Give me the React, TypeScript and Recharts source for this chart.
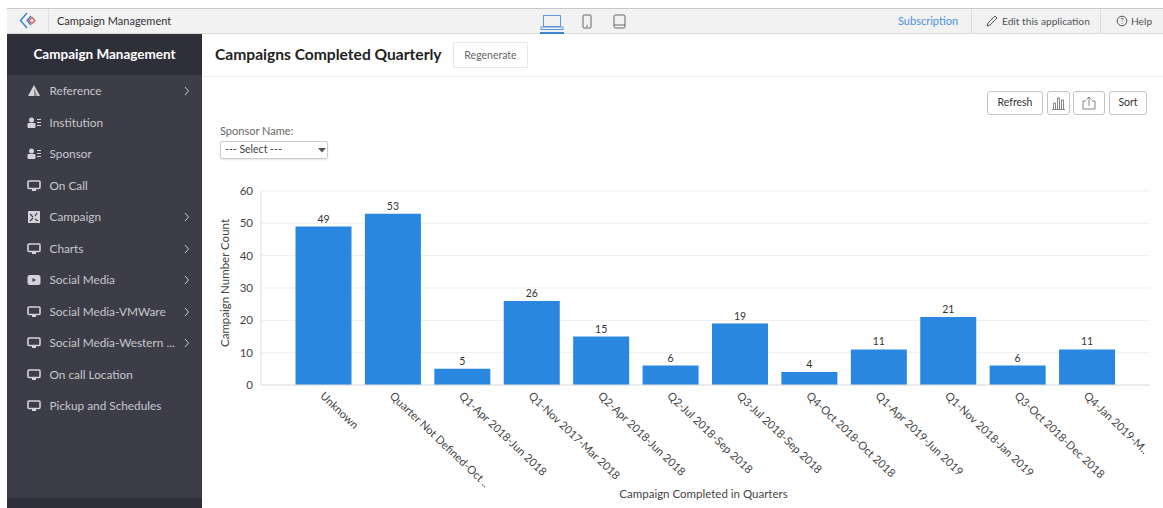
import { Bar, BarChart, CartesianGrid, LabelList, XAxis, YAxis } from "recharts";

const quarters = [
  "Unknown",
  "Quarter Not Defined-Oct ..",
  "Q1-Apr 2018-Jun 2018",
  "Q1-Nov 2017-Mar 2018",
  "Q2-Apr 2018-Jun 2018",
  "Q2-Jul 2018-Sep 2018",
  "Q3-Jul 2018-Sep 2018",
  "Q4-Oct 2018-Oct 2018",
  "Q1-Apr 2019-Jun 2019",
  "Q1-Nov 2018-Jan 2019",
  "Q3-Oct 2018-Dec 2018",
  "Q4-Jan 2019-M..",
];
const counts = [49, 53, 5, 26, 15, 6, 19, 4, 11, 21, 6, 11];
const yTicks = [0, 10, 20, 30, 40, 50, 60];

const menuLabels = [
  "Reference",
  "Institution",
  "Sponsor",
  "On Call",
  "Campaign",
  "Charts",
  "Social Media",
  "Social Media-VMWare",
  "Social Media-Western ...",
  "On call Location",
  "Pickup and Schedules",
];
const menuIcons = ["warn", "person", "person", "screen", "grid", "screen", "play", "screen", "screen", "screen", "screen"];
const menuArrows = [true, false, false, false, true, true, true, true, true, false, false];

const chartData = quarters.map((q, i) => ({ q, count: counts[i] }));
const FONT = "Lato, 'Open Sans', sans-serif";

function abs(left: number, top: number, width?: number, height?: number) {
  return { position: "absolute" as const, left, top, width, height };
}

function AngledTick({ x, y, payload }: any) {
  return (
    <g transform={`translate(${x - 1},${y + 1})`}>
      <text transform="rotate(43.5)" textAnchor="start" dy="0.35em" fontSize={11.2} fill="#444" fontFamily={FONT}>
        {payload.value}
      </text>
    </g>
  );
}

function MenuIcon({ kind }: { kind: string }) {
  const c = "#d4d4d8";
  return (
    <svg width={14} height={12} viewBox="0 0 14 12" style={{ display: "block" }}>
      {kind === "warn" && (
        <g>
          <path d="M7 0 L13 11 L1 11 Z" fill={c} />
          <path d="M7 3 L7 11 L10.5 11 Z" fill="#8a8a90" />
        </g>
      )}
      {kind === "person" && (
        <g fill={c}>
          <circle cx={4.5} cy={3} r={2.5} />
          <rect x={0.5} y={6} width={8} height={5} rx={1} />
          <rect x={10} y={2} width={4} height={1} />
          <rect x={10} y={5} width={4} height={1} />
          <rect x={10} y={8} width={4} height={1} />
        </g>
      )}
      {kind === "screen" && (
        <g>
          <rect x={1} y={1} width={12} height={7.5} rx={1} fill="none" stroke={c} strokeWidth={1.6} />
          <rect x={5} y={9} width={4} height={2} fill={c} />
        </g>
      )}
      {kind === "grid" && (
        <g>
          <rect x={1} y={0} width={12} height={12} fill={c} />
          <path d="M3 3 L6 6 M10 2 L8 5 M3 10 L6 7 M8 8 L11 10" stroke="#3d3d47" strokeWidth={1.2} />
        </g>
      )}
      {kind === "play" && (
        <g>
          <rect x={0.5} y={1} width={13} height={10} rx={2.5} fill={c} />
          <path d="M5.5 4 L9 6 L5.5 8 Z" fill="#3d3d47" />
        </g>
      )}
    </svg>
  );
}

function Sidebar() {
  return (
    <div style={{ ...abs(7, 34, 195, 474), background: "#3d3d47" }}>
      <div
        style={{
          ...abs(0, 0, 195, 41),
          background: "#2f2f3a",
          color: "#fff",
          fontSize: 13.5,
          fontWeight: 700,
          lineHeight: "41px",
          textAlign: "center",
        }}
      >
        Campaign Management
      </div>
      {menuLabels.map((label, i) => {
        const top = 38 + i * 31.5;
        return (
          <div key={label}>
            <div style={abs(20, top + 13)}>
              <MenuIcon kind={menuIcons[i]} />
            </div>
            <div style={{ ...abs(42.5, top + 10, 140, 18), color: "#c8c8cc", fontSize: 11.8, lineHeight: "18px", whiteSpace: "nowrap" }}>
              {label}
            </div>
            {menuArrows[i] && (
              <svg width={6} height={10} style={abs(177, top + 14)}>
                <path d="M1 1 L4.5 5 L1 9" fill="none" stroke="#c8c8cc" strokeWidth={1} />
              </svg>
            )}
          </div>
        );
      })}
      <div style={{ ...abs(0, 464, 195, 10), background: "#30303a" }} />
    </div>
  );
}

function TopBar() {
  const cell = { fontSize: 10.2, lineHeight: "24px", color: "#555", whiteSpace: "nowrap" as const };
  return (
    <div style={{ ...abs(7, 8, 1156, 26), background: "#f2f2f2", borderTop: "1px solid #c9c9c9", borderBottom: "1px solid #d9d9d9", boxSizing: "border-box" }}>
      <svg width={18} height={18} style={abs(12, 3)}>
        <path d="M8 1 L1.5 8.5 L8 16 M12 4 L8 8.5 L12 13" fill="none" stroke="#3f7fc4" strokeWidth={1.4} />
        <path d="M13 5.5 L16 8.5 L13 11.5 L10 8.5 Z" fill="none" stroke="#e2504c" strokeWidth={1.2} />
      </svg>
      <div style={{ ...abs(41, 0, 1, 24), background: "#e0e0e0" }} />
      <div style={{ ...abs(50, 0), ...cell, color: "#333", fontSize: 11 }}>Campaign Management</div>

      <svg width={24} height={24} style={abs(533, 0)}>
        <rect x={3.5} y={6.5} width={17} height={11} fill="none" stroke="#4a90d9" strokeWidth={0.9} />
        <rect x={1} y={18} width={22} height={2.5} fill="none" stroke="#4a90d9" strokeWidth={0.9} />
      </svg>
      <div style={{ ...abs(533, 23, 24, 2), background: "#3f88d8" }} />
      <svg width={12} height={16} style={abs(574, 5)}>
        <rect x={2} y={1} width={8} height={13} rx={1} fill="none" stroke="#555" strokeWidth={0.9} />
        <circle cx={6} cy={12} r={0.8} fill="#555" />
      </svg>
      <svg width={14} height={16} style={abs(606, 5)}>
        <rect x={1} y={1} width={11} height={13} rx={1.5} fill="none" stroke="#555" strokeWidth={0.9} />
        <path d="M1 11 H12" stroke="#555" strokeWidth={0.9} />
      </svg>

      <div style={{ ...abs(891, 0), ...cell, color: "#4a90e2", fontSize: 11 }}>Subscription</div>
      <div style={{ ...abs(964, 0, 1, 24), background: "#dcdcdc" }} />
      <svg width={12} height={12} style={abs(979, 6)}>
        <path d="M1 11 L2 8 L9 1 L11 3 L4 10 Z" fill="none" stroke="#555" strokeWidth={1} />
      </svg>
      <div style={{ ...abs(995, 0), ...cell }}>Edit this application</div>
      <div style={{ ...abs(1093, 0, 1, 24), background: "#dcdcdc" }} />
      <svg width={12} height={12} style={abs(1109, 6)}>
        <circle cx={6} cy={6} r={4.8} fill="none" stroke="#555" strokeWidth={1} />
        <text x={6} y={8.5} fontSize={7} textAnchor="middle" fill="#555">?</text>
      </svg>
      <div style={{ ...abs(1124, 0), ...cell }}>Help</div>
    </div>
  );
}

function Btn({ left, width, text, children }: { left: number; width: number; text?: string; children?: any }) {
  return (
    <div
      style={{
        ...abs(left, 91, width, 24),
        boxSizing: "border-box",
        border: "1px solid #c4c4c4",
        borderRadius: 3,
        background: "#fff",
        fontSize: 10.5,
        lineHeight: "21px",
        color: "#333",
        textAlign: "center",
      }}
    >
      {text}
      {children}
    </div>
  );
}

export default function App() {
  return (
    <div style={{ ...abs(0, 0, 1163, 508), background: "#fff", overflow: "hidden", fontFamily: FONT }}>
      <TopBar />
      <Sidebar />

      <div style={{ ...abs(215, 45), fontSize: 15.6, fontWeight: 700, color: "#222", lineHeight: "18px", whiteSpace: "nowrap" }}>
        Campaigns Completed Quarterly
      </div>
      <div
        style={{
          ...abs(453, 42, 75, 26),
          boxSizing: "border-box",
          border: "1px solid #e8e8e8",
          fontSize: 10.5,
          lineHeight: "24px",
          textAlign: "center",
          color: "#666",
        }}
      >
        Regenerate
      </div>
      <div style={{ ...abs(202, 76, 961, 1), background: "#ececec" }} />

      <Btn left={987} width={56} text="Refresh" />
      <Btn left={1047} width={23}>
        <svg width={15} height={14} style={abs(3, 4)}>
          <path d="M1 13.5 H14 M2.5 13 V7 H4.5 V13 M6.5 13 V2 H8.5 V13 M10.5 13 V4 H12.5 V13" fill="none" stroke="#666" strokeWidth={0.8} />
        </svg>
      </Btn>
      <Btn left={1073} width={32}>
        <svg width={16} height={14} style={abs(7, 4)}>
          <path d="M5 5 H2 V13 H14 V5 H11 M8 10 V1 M5.5 3.5 L8 1 L10.5 3.5" fill="none" stroke="#666" strokeWidth={0.8} />
        </svg>
      </Btn>
      <Btn left={1109} width={38} text="Sort" />

      <div style={{ ...abs(220, 124), fontSize: 11, color: "#666", lineHeight: "14px" }}>Sponsor Name:</div>
      <div
        style={{
          ...abs(220, 141, 108, 18),
          boxSizing: "border-box",
          border: "1px solid #ccc",
          borderRadius: 2,
          fontSize: 10.5,
          lineHeight: "15px",
          color: "#444",
          paddingLeft: 4,
          boxShadow: "0 1px 2px rgba(0,0,0,0.1)",
        }}
      >
        --- Select ---
        <svg width={8} height={5} style={abs(97, 6)}>
          <path d="M0 0 H8 L4 4.5 Z" fill="#555" />
        </svg>
      </div>

      <div style={abs(0, 0)}>
        <BarChart
          width={1163}
          height={508}
          data={chartData}
          margin={{ top: 191, right: 13, bottom: 23, left: 231 }}
          style={{ fontFamily: FONT }}
        >
          <CartesianGrid stroke="#efefef" vertical={false} />
          <XAxis
            dataKey="q"
            interval={0}
            height={100}
            padding={{ left: 27.5, right: 28.5 }}
            tick={<AngledTick />}
            tickLine={false}
            axisLine={{ stroke: "#dedede" }}
            label={{ value: "Campaign Completed in Quarters", position: "insideBottom", offset: -13, dx: -2, fontSize: 11.5, fill: "#444" }}
          />
          <YAxis
            width={30}
            domain={[0, 60]}
            ticks={yTicks}
            tick={{ fontSize: 11.5, fill: "#444" }}
            tickLine={false}
            axisLine={{ stroke: "#dedede" }}
            label={{ value: "Campaign Number Count", angle: -90, position: "insideLeft", offset: -6, dy: -5, fontSize: 11.5, fill: "#444", style: { textAnchor: "middle" } }}
          />
          <Bar dataKey="count" fill="#2a87e0" barSize={56} isAnimationActive={false}>
            <LabelList dataKey="count" position="top" fontSize={10.5} fill="#333" offset={4} />
          </Bar>
        </BarChart>
      </div>
    </div>
  );
}
